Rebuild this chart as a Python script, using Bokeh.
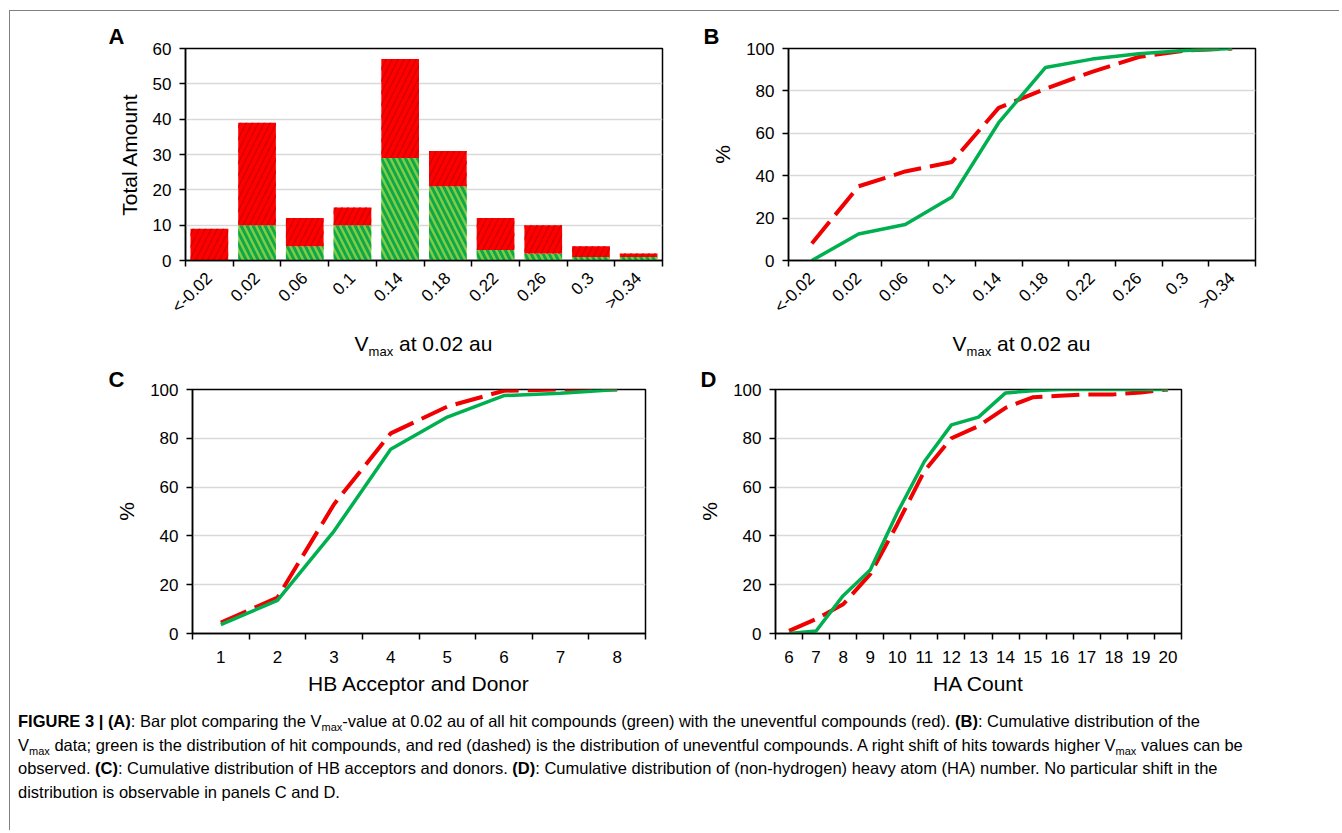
import math
import numpy as np
from bokeh.plotting import figure
from bokeh.models import Range1d, FixedTicker, Div, ColumnDataSource
from bokeh.layouts import row, column
from bokeh.embed import file_html
from bokeh.resources import INLINE

FONT = "Liberation Sans"

# ---------------- data ----------------
vmax_bins = ["<-0.02", "0.02", "0.06", "0.1", "0.14", "0.18", "0.22", "0.26", "0.3", ">0.34"]
hits_count = [0, 10, 4, 10, 29, 21, 3, 2, 1, 1]
uneventful_count = [9, 29, 8, 5, 28, 10, 9, 8, 3, 1]

vmax_cum_hits = [0, 12.5, 17, 30, 65, 91, 95, 97.5, 99, 100]
vmax_cum_unev = [8, 35, 42, 46.5, 72, 81, 89, 96, 99, 100]

hb_values = [1, 2, 3, 4, 5, 6, 7, 8]
hb_cum_hits = [3.6, 13.6, 42, 75.5, 88.7, 97.5, 98.5, 100]
hb_cum_unev = [4.5, 14.7, 53, 82, 93, 99.5, 100, 100]

ha_values = list(range(6, 21))
ha_cum_hits = [0, 1, 15.5, 26, 49.5, 70.5, 85.5, 88.7, 98.6, 99.5, 100, 100, 100, 100, 100]
ha_cum_unev = [1.1, 5.9, 12, 24.3, 44.8, 66.6, 80, 85, 92.5, 96.8, 97.4, 98, 98, 98.8, 100]

GREEN = "#00b050"
RED = "#f00000"
TICK_PX = 17
TITLE_PX = 21


def make_fig(x0, x1, y0, y1, fw, fh, left, right, top, bottom, letter, letter_dx, letter_standoff):
    p = figure(x_range=Range1d(x0, x1), y_range=Range1d(y0, y1),
               frame_width=fw, frame_height=fh,
               min_border_left=left, min_border_right=right,
               min_border_top=top, min_border_bottom=bottom,
               output_backend="svg", toolbar_location=None,
               background_fill_color="white", border_fill_color="white",
               title=letter, margin=0)
    p.title.text_font = FONT
    p.title.text_font_size = "22px"
    p.title.text_font_style = "bold"
    p.title.text_color = "black"
    p.title.align = "left"
    p.title.offset = letter_dx
    p.title.standoff = letter_standoff
    p.outline_line_color = "black"
    p.outline_line_width = 1.5
    p.outline_line_alpha = 1
    p.xgrid.visible = False
    p.ygrid.grid_line_color = "#d9d9d9"
    p.ygrid.grid_line_width = 1.5
    for ax in p.axis:
        ax.axis_line_color = "black"
        ax.axis_line_width = 1.5
        ax.major_label_text_font = FONT
        ax.major_label_text_font_size = f"{TICK_PX}px"
        ax.major_label_text_color = "black"
        ax.axis_label_text_font = FONT
        ax.axis_label_text_font_size = f"{TITLE_PX}px"
        ax.axis_label_text_font_style = "normal"
        ax.axis_label_text_color = "black"
    p.yaxis.major_tick_line_color = "black"
    p.yaxis.major_tick_line_width = 1.5
    p.yaxis.major_tick_out = 6
    p.yaxis.major_tick_in = 0
    p.yaxis.minor_tick_line_color = None
    p.yaxis.major_label_standoff = 8
    p.yaxis.axis_label_standoff = 9
    p.xaxis.major_tick_line_color = None
    p.xaxis.minor_tick_line_color = "black"
    p.xaxis.minor_tick_line_width = 1.5
    p.xaxis.minor_tick_out = 6
    p.xaxis.minor_tick_in = 0
    return p


def vmax_title_div(fig_w, frame_left, frame_w):
    html = (f'<div style="width:{frame_w}px;margin-left:{frame_left}px;text-align:center;'
            f'font-family:\'Liberation Sans\',Arial,sans-serif;font-size:{TITLE_PX}px;'
            f'line-height:35px;color:#000;white-space:nowrap;">'
            'V<sub style="font-size:13px;line-height:0;">max</sub> at 0.02 au</div>')
    return Div(text=html, width=fig_w, height=35, margin=0)


n_bins = len(vmax_bins)
centers = [i + 0.5 for i in range(n_bins)]
labels = {c: lab for c, lab in zip(centers, vmax_bins)}
bounds = list(range(n_bins + 1))

# ---------------- panel A ----------------
A_LEFT, A_FW, A_RIGHT = 175, 477, 10
pa = make_fig(0, n_bins, 0, 60, A_FW, 212, A_LEFT, A_RIGHT, 37, 65, "A", -77, 0)
src = ColumnDataSource(dict(
    x=centers,
    hits=hits_count,
    total=[h + u for h, u in zip(hits_count, uneventful_count)],
    zero=[0] * n_bins,
))
pa.vbar(x="x", bottom="zero", top="hits", width=0.79, source=src,
        fill_color="#7fcd42", line_color=None,
        hatch_pattern="\\", hatch_color="#0fa74a", hatch_scale=12, hatch_weight=3)
pa.vbar(x="x", bottom="hits", top="total", width=0.79, source=src,
        fill_color="#ff0000", line_color=None,
        hatch_pattern="/", hatch_color="#d80000", hatch_scale=12, hatch_weight=1.6)
pa.xaxis.ticker = FixedTicker(ticks=centers, minor_ticks=bounds)
pa.xaxis.major_label_overrides = labels
pa.xaxis.major_label_orientation = math.pi / 4
pa.xaxis.major_label_standoff = 9
pa.yaxis.ticker = FixedTicker(ticks=[0, 10, 20, 30, 40, 50, 60])
pa.yaxis.axis_label = "Total Amount"
ta = vmax_title_div(A_LEFT + A_FW + A_RIGHT, A_LEFT, A_FW)

# ---------------- panel B ----------------
B_LEFT, B_FW, B_RIGHT = 116, 467, 80
pb = make_fig(0, n_bins, 0, 100, B_FW, 212, B_LEFT, B_RIGHT, 37, 65, "B", -85, 0)
pb.line(centers, vmax_cum_unev, line_color=RED, line_width=4, line_dash="28 9")
pb.line(centers, vmax_cum_hits, line_color=GREEN, line_width=3.5)
pb.xaxis.ticker = FixedTicker(ticks=centers, minor_ticks=bounds)
pb.xaxis.major_label_overrides = labels
pb.xaxis.major_label_orientation = math.pi / 4
pb.xaxis.major_label_standoff = 9
pb.yaxis.ticker = FixedTicker(ticks=[0, 20, 40, 60, 80, 100])
pb.yaxis.axis_label = "%"
tb = vmax_title_div(B_LEFT + B_FW + B_RIGHT, B_LEFT, B_FW)

# ---------------- panel C ----------------
cx0, cx1 = hb_values[0] - 0.5, hb_values[-1] + 0.5
pc = make_fig(cx0, cx1, 0, 100, 453, 244, 182, 27, 28, 70, "C", -84, -4)
pc.line(hb_values, hb_cum_unev, line_color=RED, line_width=4, line_dash="28 9")
pc.line(hb_values, hb_cum_hits, line_color=GREEN, line_width=3.5)
pc.xaxis.ticker = FixedTicker(ticks=hb_values, minor_ticks=[v - 0.5 for v in hb_values] + [cx1])
pc.xaxis.major_label_standoff = 11
pc.xaxis.axis_label = "HB Acceptor and Donor"
pc.xaxis.axis_label_standoff = 6
pc.yaxis.ticker = FixedTicker(ticks=[0, 20, 40, 60, 80, 100])
pc.yaxis.axis_label = "%"

# ---------------- panel D ----------------
dx0, dx1 = ha_values[0] - 0.5, ha_values[-1] + 0.5
pd_ = make_fig(dx0, dx1, 0, 100, 406, 244, 103, 154, 28, 70, "D", -75, -4)
pd_.line(ha_values, ha_cum_unev, line_color=RED, line_width=4, line_dash="28 9")
pd_.line(ha_values, ha_cum_hits, line_color=GREEN, line_width=3.5)
pd_.xaxis.ticker = FixedTicker(ticks=ha_values, minor_ticks=[v - 0.5 for v in ha_values] + [dx1])
pd_.xaxis.major_label_standoff = 11
pd_.xaxis.axis_label = "HA Count"
pd_.xaxis.axis_label_standoff = 6
pd_.yaxis.ticker = FixedTicker(ticks=[0, 20, 40, 60, 80, 100])
pd_.yaxis.axis_label = "%"

# ---------------- caption ----------------
SUB = '<sub style="font-size:11px;line-height:0;">max</sub>'
caption = (
    '<b>FIGURE 3 | (A)</b>: Bar plot comparing the V' + SUB + '-value at 0.02 au of all hit compounds (green) '
    'with the uneventful compounds (red). <b>(B)</b>: Cumulative distribution of the<br>'
    'V' + SUB + ' data; green is the distribution of hit compounds, and red (dashed) is the distribution of '
    'uneventful compounds. A right shift of hits towards higher V' + SUB + ' values can be<br>'
    'observed. <b>(C)</b>: Cumulative distribution of HB acceptors and donors. <b>(D)</b>: Cumulative '
    'distribution of (non-hydrogen) heavy atom (HA) number. No particular shift in the<br>'
    'distribution is observable in panels C and D.'
)
div = Div(text=caption, width=1320, height=105, margin=0,
          styles={"font-family": "'Liberation Sans', Arial, sans-serif", "font-size": "16.5px",
                  "line-height": "23.5px", "white-space": "nowrap", "color": "#000",
                  "padding-left": "8px", "padding-top": "7px"})

layout = column(row(column(pa, ta, margin=0), column(pb, tb, margin=0), margin=0),
                row(pc, pd_, margin=0), div,
                width=1330, height=820, margin=(10, 0, 0, 9),
                styles={"border-top": "1px solid #808080", "border-left": "1px solid #808080"})

open("out.html", "w").write(file_html(layout, INLINE))
